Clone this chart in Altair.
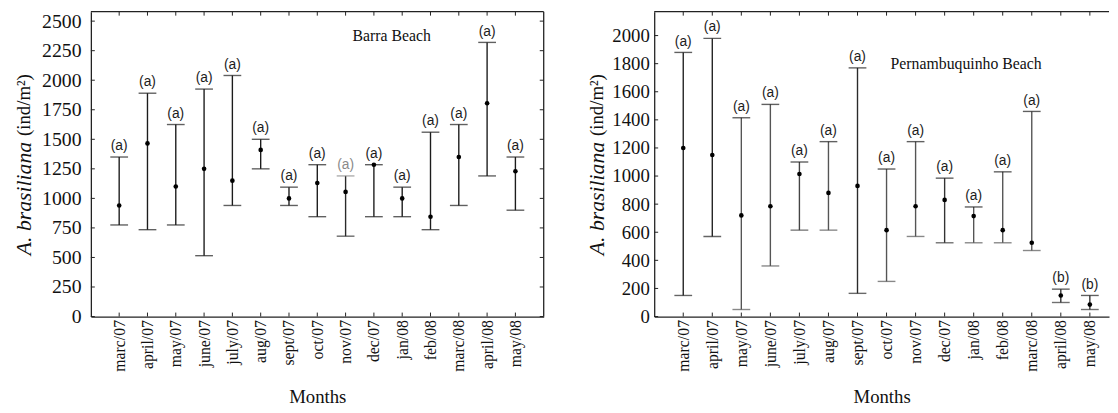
import altair as alt
import pandas as pd

months = ["marc/07", "april/07", "may/07", "june/07", "july/07", "aug/07", "sept/07",
          "oct/07", "nov/07", "dec/07", "jan/08", "feb/08", "marc/08", "april/08", "may/08"]

# Barra Beach
barra_mean = [940, 1465, 1100, 1250, 1150, 1410, 1000, 1130, 1055, 1285, 1000, 845, 1350, 1805, 1230]
barra_upper = [1350, 1890, 1625, 1925, 2040, 1500, 1095, 1285, 1190, 1285, 1095, 1560, 1625, 2320, 1350]
barra_lower = [775, 735, 775, 515, 940, 1250, 940, 845, 680, 845, 845, 735, 940, 1190, 900]
barra_letters = ["(a)"] * 15
barra_bar_colors = ["#1c1c1c"] * 8 + ["#2a2a2a"] + ["#1c1c1c"] * 6
barra_label_colors = ["#1c1c1c"] * 8 + ["#8a8a8a"] + ["#1c1c1c"] * 6
barra_yticks = [0, 250, 500, 750, 1000, 1250, 1500, 1750, 2000, 2250, 2500]

# Pernambuquinho Beach
pern_mean = [1200, 1150, 720, 785, 1015, 880, 930, 615, 785, 830, 715, 615, 525, 150, 85]
pern_upper = [1880, 1980, 1415, 1510, 1100, 1245, 1770, 1050, 1245, 985, 780, 1030, 1460, 195, 150]
pern_lower = [150, 570, 50, 360, 615, 615, 165, 250, 570, 525, 525, 525, 470, 100, 50]
pern_letters = ["(a)"] * 13 + ["(b)"] * 2
pern_bar_colors = ["#222222", "#222222", "#555555", "#555555", "#444444", "#555555", "#2a2a2a",
                   "#555555", "#555555", "#333333", "#555555", "#555555", "#555555", "#333333", "#333333"]
pern_label_colors = ["#1c1c1c"] * 15
pern_yticks = [0, 200, 400, 600, 800, 1000, 1200, 1400, 1600, 1800, 2000]

H = 309
SERIF = "Liberation Serif"
SANS = "Liberation Sans"
FRAME = "#222222"

label_expr = "[" + ",".join("'" + m + "'" for m in months) + "][datum.value - 1]"


def panel(mean, upper, lower, letters, bar_colors, label_colors, ydomain, yticks,
          xmax, width, title_x, title_split, ann_text, ann_x, ann_y,
          ylabel_size, ylabel_pad, right_border):
    df = pd.DataFrame({
        "idx": list(range(1, 16)),
        "month": months,
        "mean": mean, "upper": upper, "lower": lower,
        "letter": letters, "bar_color": bar_colors, "label_color": label_colors,
    })
    yscale = alt.Scale(domain=ydomain, nice=False, zero=True)
    x_enc = alt.X(
        "idx:Q",
        scale=alt.Scale(domain=[0, xmax], nice=False, zero=False),
        axis=alt.Axis(values=list(range(1, 16)), tickCount=30, labelExpr=label_expr,
                      labelAngle=270,
                      title="Months", grid=False, ticks=False, domain=True,
                      domainColor=FRAME, domainWidth=1.3,
                      labelFont=SERIF, labelFontSize=16, labelPadding=3,
                      labelOverlap=False, labelFlush=False, labelColor="#111",
                      titleFont=SERIF, titleFontSize=19, titleFontWeight="normal",
                      titleColor="#111", titlePadding=17),
    )
    y_axis = alt.Axis(values=yticks, tickCount=30, format="d", grid=False, ticks=False,
                      domain=True, domainColor=FRAME, domainWidth=1.3,
                      labelFont=SERIF, labelFontSize=ylabel_size, labelPadding=ylabel_pad,
                      labelColor="#111", labelFlush=False, labelOverlap=False)
    base = alt.Chart(df)
    bars = base.mark_rule(strokeWidth=1.4).encode(
        x=x_enc,
        y=alt.Y("lower:Q", scale=yscale, axis=y_axis, title=None),
        y2="upper:Q",
        color=alt.Color("bar_color:N", scale=None),
    )
    cap_up = base.mark_tick(orient="horizontal", size=18, thickness=1.4).encode(
        x="idx:Q", y=alt.Y("upper:Q", title=None),
        color=alt.Color("label_color:N", scale=None),
    )
    cap_lo = base.mark_tick(orient="horizontal", size=18, thickness=1.4).encode(
        x="idx:Q", y=alt.Y("lower:Q", title=None),
        color=alt.Color("bar_color:N", scale=None),
    )
    dots = base.mark_point(filled=True, size=22, shape="circle", opacity=1).encode(
        x="idx:Q", y=alt.Y("mean:Q", title=None), color=alt.value("#000000"),
    )
    letters_l = base.mark_text(dy=-11, font=SANS, fontSize=14).encode(
        x="idx:Q", y=alt.Y("upper:Q", title=None), text="letter:N",
        color=alt.Color("label_color:N", scale=None),
    )
    ann = alt.Chart(pd.DataFrame({"idx": [ann_x], "upper": [ann_y], "t": [ann_text]})).mark_text(
        font=SERIF, fontSize=16, color="#111"
    ).encode(x="idx:Q", y=alt.Y("upper:Q", title=None), text="t:N")

    # inner ticks on top and bottom at each month, and on left at each y tick
    top_ticks = base.mark_rule(color=FRAME, strokeWidth=1).encode(
        x="idx:Q", y=alt.value(0), y2=alt.value(4))
    bot_ticks = base.mark_rule(color=FRAME, strokeWidth=1).encode(
        x="idx:Q", y=alt.value(H), y2=alt.value(H - 4))
    ydf = pd.DataFrame({"upper": yticks})
    left_ticks = alt.Chart(ydf).mark_rule(color=FRAME, strokeWidth=1).encode(
        y=alt.Y("upper:Q", title=None), x=alt.value(0), x2=alt.value(4))

    one = pd.DataFrame({"t": ["A. brasiliana"], "u": ["(ind/m²)"]})
    title_it = alt.Chart(one).mark_text(angle=270, align="right", baseline="middle",
                                        font=SERIF, fontSize=22, fontStyle="italic",
                                        color="#111").encode(
        x=alt.value(title_x), y=alt.value(title_split), text="t:N")
    title_up = alt.Chart(one).mark_text(angle=270, align="left", baseline="middle",
                                        dx=6, font=SERIF, fontSize=19, color="#111").encode(
        x=alt.value(title_x), y=alt.value(title_split), text="u:N")

    frame_top = alt.Chart(one).mark_rule(color=FRAME, strokeWidth=1.3).encode(
        x=alt.value(0), x2=alt.value(width), y=alt.value(0))
    layers = [bars, cap_lo, cap_up, dots, letters_l, ann, top_ticks, bot_ticks, left_ticks,
              title_it, title_up, frame_top]
    if right_border:
        frame_right = alt.Chart(one).mark_rule(color=FRAME, strokeWidth=1.3).encode(
            x=alt.value(width), y=alt.value(0), y2=alt.value(H))
        right_ticks = alt.Chart(ydf).mark_rule(color=FRAME, strokeWidth=1).encode(
            y=alt.Y("upper:Q", title=None), x=alt.value(width), x2=alt.value(width - 4))
        layers += [frame_right, right_ticks]
    return alt.layer(*layers).properties(width=width, height=H)


left = panel(barra_mean, barra_upper, barra_lower, barra_letters, barra_bar_colors,
             barra_label_colors, [0, 2580], barra_yticks, 16, 459,
             -68, 132, "Barra Beach", 10.63, 2371, 20, 10, True)
right = panel(pern_mean, pern_upper, pern_lower, pern_letters, pern_bar_colors,
              pern_label_colors, [0, 2170], pern_yticks, 15.66, 461,
              -58, 132, "Pernambuquinho Beach", 10.74, 1800, 19, 5, False)

chart = alt.hconcat(left, right, spacing=42).properties(
    padding={"left": 5, "top": 0, "right": 0, "bottom": 0},
    background="white",
).configure_view(stroke=None).configure_axis(labelOverlap=False)

chart.save("out.html", embed_options={"renderer": "svg", "actions": False})
